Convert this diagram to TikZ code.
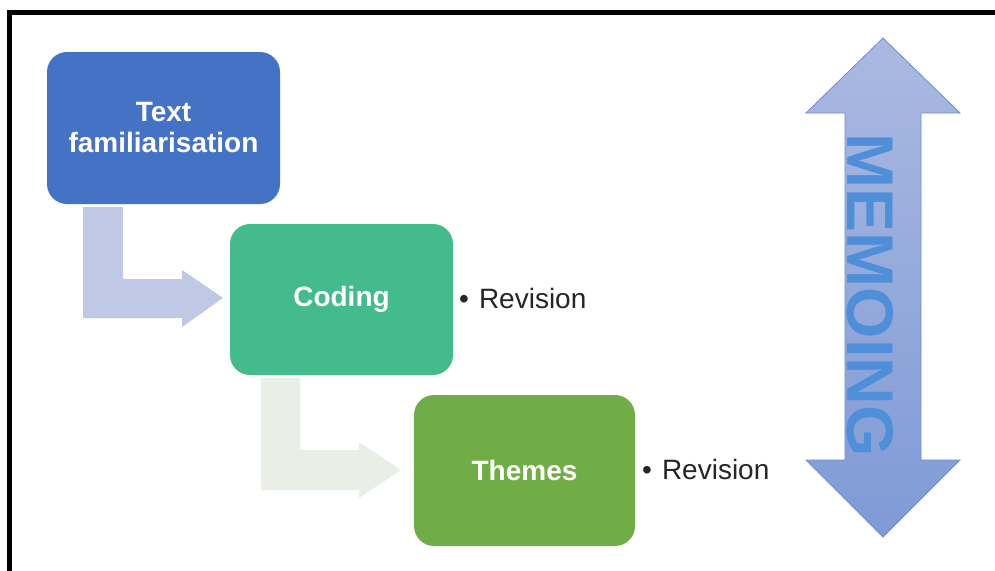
\documentclass[tikz,border=0pt]{standalone}
\usepackage{fontspec}
\setmainfont{Liberation Sans}
\begin{document}
\begin{tikzpicture}[x=1pt,y=-1pt,
  stepbox/.style={rounded corners=20pt, inner sep=0pt, text=white,
    font=\fontsize{28}{31}\selectfont\bfseries, align=center,
    minimum width=#1},
  stepbox/.default=222pt,
  note/.style={anchor=west, inner sep=0pt, text=black!85,
    font=\fontsize{28}{31}\selectfont}]
\definecolor{boxblue}{HTML}{4472C4}
\definecolor{boxteal}{HTML}{44BB8C}
\definecolor{boxgreen}{HTML}{70AD47}
\definecolor{bendblue}{HTML}{BFC9E5}
\definecolor{bendgreen}{HTML}{E9EFE7}
\definecolor{memotop}{HTML}{AAB9E1}
\definecolor{memobot}{HTML}{7F9AD6}
\definecolor{memoline}{HTML}{6F8ED2}
\definecolor{memotext}{HTML}{4F8FDA}

\useasboundingbox (0,0) rectangle (995,570);
\fill[white] (0,0) rectangle (995,570);

% frame along the left and top edges
\draw[line width=5pt] (9.5,572) -- (9.5,12.5) -- (997,12.5);

% process steps
\node[stepbox=233pt, minimum height=152pt, fill=boxblue] (fam) at (163.5,128) {Text\\familiarisation};
\node[stepbox=223pt, minimum height=151pt, fill=boxteal] (cod) at (341.5,299.5) {Coding};
\node[stepbox=221pt, minimum height=151pt, fill=boxgreen] (the) at (524.5,470.5) {Themes};

% bent arrows between the steps
\fill[bendblue] (83,207) -- (123,207) -- (123,279) -- (182,279) -- (182,270)
  -- (223,298) -- (182,327) -- (182,318) -- (83,318) -- cycle;
\fill[bendgreen] (261,378) -- (300,378) -- (300,450) -- (359,450) -- (359,442)
  -- (401,470) -- (359,498) -- (359,490) -- (261,490) -- cycle;

% revision notes
\node[note] (rev1) at (459,298) {•\hspace{10pt}Revision};
\node[note] (rev2) at (642,469) {•\hspace{10pt}Revision};

% memoing double arrow
\draw[memoline, line width=0.8pt, top color=memotop, bottom color=memobot]
  (883,38) -- (960,113) -- (921,113) -- (921,460) -- (960,460) -- (883,537)
  -- (806,460) -- (845,460) -- (845,113) -- (806,113) -- cycle;
\node[rotate=-90, inner sep=0pt, text=memotext,
  font=\fontsize{66}{66}\selectfont\bfseries] (memo) at (870,295) {MEMOING};
\end{tikzpicture}
\end{document}
